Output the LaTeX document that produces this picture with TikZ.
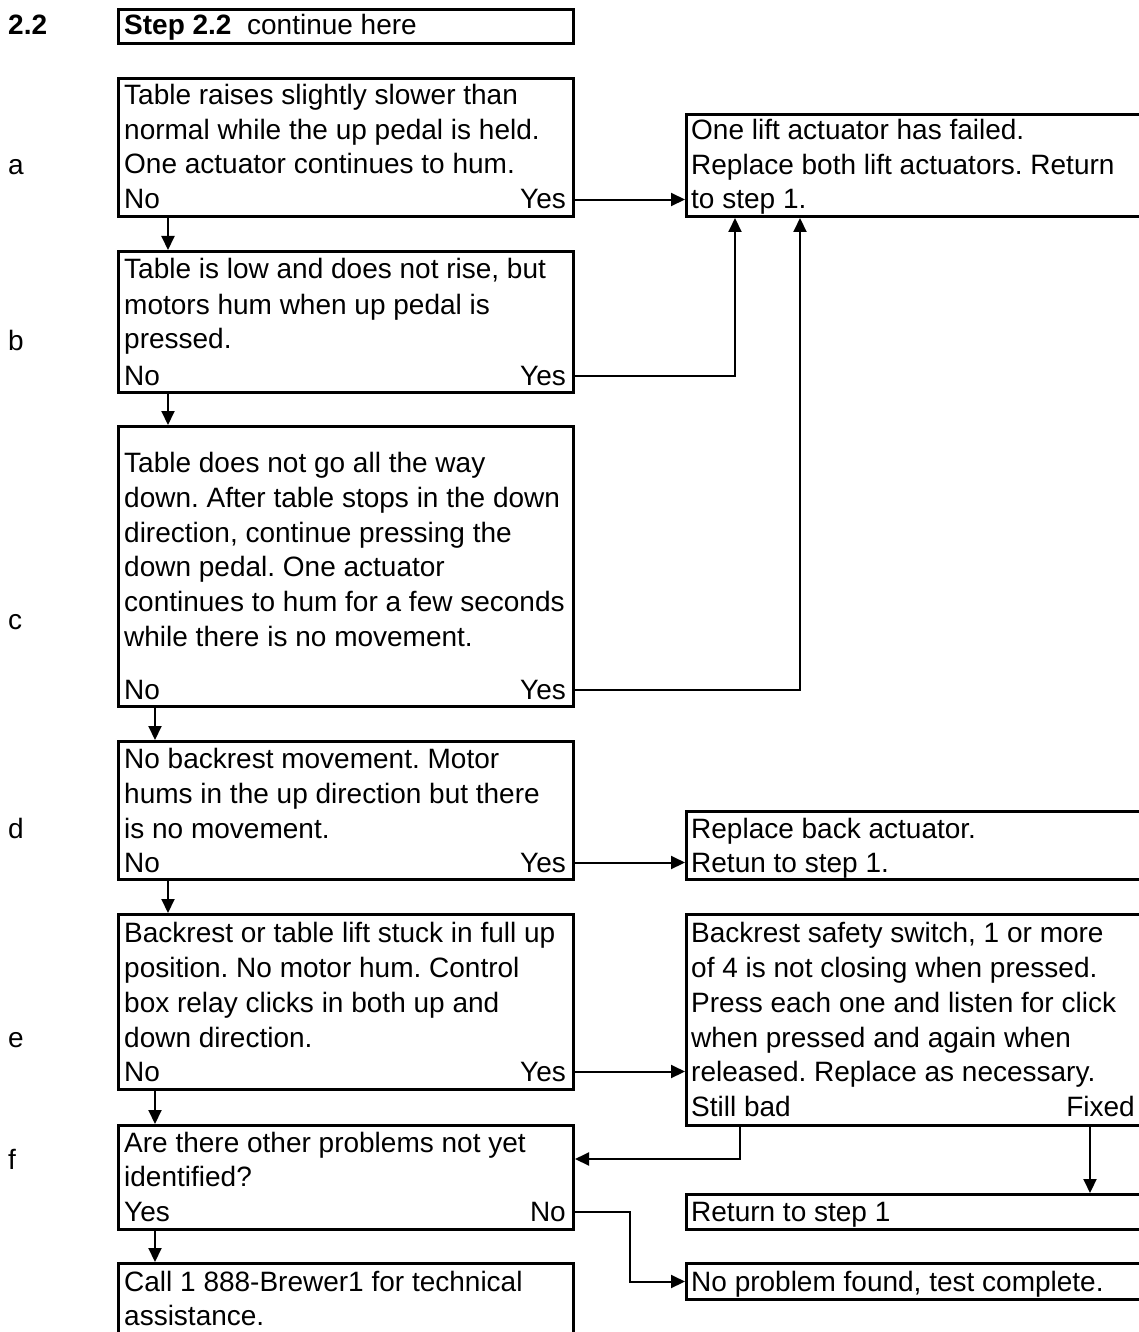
\documentclass[tikz,border=0pt]{standalone}
\usepackage{fontspec}
\setmainfont{Liberation Sans}
\usetikzlibrary{arrows.meta}
\frenchspacing
\newcommand\txtline[4]{\node[txt] (#1) at (#2,#3) {#4};}
\newcommand\txtright[4]{\node[txtr] (#1) at (#2,#3) {#4};}
\begin{document}
\begin{tikzpicture}[x=1pt,y=-1pt,
  bx/.style={draw, line width=3pt, inner sep=0pt, anchor=north west},
  txt/.style={anchor=base west, inner sep=0pt, font=\fontsize{28}{34}\selectfont},
  txtr/.style={anchor=base east, inner sep=0pt, font=\fontsize{28}{34}\selectfont},
  arr/.style={line width=2pt, -{Triangle[length=14pt,width=13pt]}},
  ]
\useasboundingbox (0,0) rectangle (1139,1332);
\clip (0,0) rectangle (1139,1332);
% column coordinates
\coordinate (x168) at (168,0);
\coordinate (x155) at (155,0);
\coordinate (x735) at (735,0);
\coordinate (x800) at (800,0);
\coordinate (x740) at (740,0);
\coordinate (x1090) at (1090,0);
\coordinate (x630) at (630,0);
\coordinate (y1159) at (0,1159);
% boxes
\node[bx, minimum width=455pt, minimum height=34pt]  (st) at (117,8) {};
\node[bx, minimum width=455pt, minimum height=138pt] (a) at (117,77) {};
\node[bx, minimum width=455pt, minimum height=141pt] (b) at (117,250) {};
\node[bx, minimum width=455pt, minimum height=280pt] (c) at (117,425) {};
\node[bx, minimum width=455pt, minimum height=138pt] (d) at (117,740) {};
\node[bx, minimum width=455pt, minimum height=175pt] (e) at (117,913) {};
\node[bx, minimum width=455pt, minimum height=104pt] (f) at (117,1124) {};
\node[bx, minimum width=455pt, minimum height=90pt]  (g) at (117,1262) {};
\node[bx, minimum width=470pt, minimum height=102pt] (r1) at (685,113) {};
\node[bx, minimum width=470pt, minimum height=68pt]  (r2) at (685,810) {};
\node[bx, minimum width=470pt, minimum height=211pt] (r3) at (685,913) {};
\node[bx, minimum width=470pt, minimum height=35pt]  (r4) at (685,1193) {};
\node[bx, minimum width=470pt, minimum height=36pt]  (r5) at (685,1262) {};
% left labels
\txtline{n22}{8}{35}{\bfseries 2.2}
\txtline{la}{8}{175}{a}
\txtline{lb}{8}{350}{b}
\txtline{lc}{8}{629}{c}
\txtline{ld}{8}{838}{d}
\txtline{le}{8}{1047}{e}
\txtline{lf}{8}{1169}{f}
% step
\txtline{stt}{124}{35}{{\bfseries Step 2.2}\ \ continue here}
% a
\txtline{a1}{124}{105}{Table raises slightly slower than}
\txtline{a2}{124}{140}{normal while the up pedal is held.}
\txtline{a3}{124}{174}{One actuator continues to hum.}
\txtline{ano}{124}{209}{No}
\txtright{ayes}{566}{209}{Yes}
% b
\txtline{b1}{124}{278}{Table is low and does not rise, but}
\txtline{b2}{124}{314}{motors hum when up pedal is}
\txtline{b3}{124}{348}{pressed.}
\txtline{bno}{124}{385}{No}
\txtright{byes}{566}{385}{Yes}
% c
\txtline{c1}{124}{472}{Table does not go all the way}
\txtline{c2}{124}{507}{down. After table stops in the down}
\txtline{c3}{124}{542}{direction, continue pressing the}
\txtline{c4}{124}{576}{down pedal. One actuator}
\txtline{c5}{124}{611}{continues to hum for a few seconds}
\txtline{c6}{124}{646}{while there is no movement.}
\txtline{cno}{124}{699}{No}
\txtright{cyes}{566}{699}{Yes}
% d
\txtline{d1}{124}{768}{No backrest movement. Motor}
\txtline{d2}{124}{803}{hums in the up direction but there}
\txtline{d3}{124}{838}{is no movement.}
\txtline{dno}{124}{872}{No}
\txtright{dyes}{566}{872}{Yes}
% e
\txtline{e1}{124}{942}{Backrest or table lift stuck in full up}
\txtline{e2}{124}{977}{position. No motor hum. Control}
\txtline{e3}{124}{1012}{box relay clicks in both up and}
\txtline{e4}{124}{1047}{down direction.}
\txtline{eno}{124}{1081}{No}
\txtright{eyes}{566}{1081}{Yes}
% f
\txtline{f1}{124}{1152}{Are there other problems not yet}
\txtline{f2}{124}{1186}{identified?}
\txtline{fyes}{124}{1221}{Yes}
\txtright{fno}{566}{1221}{No}
% g
\txtline{g1}{124}{1291}{Call 1 888-Brewer1 for technical}
\txtline{g2}{124}{1325}{assistance.}
% right boxes
\txtline{r1a}{691}{140}{One lift actuator has failed.}
\txtline{r1b}{691}{175}{Replace both lift actuators. Return}
\txtline{r1c}{691}{209}{to step 1.}
\txtline{r2a}{691}{838}{Replace back actuator.}
\txtline{r2b}{691}{872}{Retun to step 1.}
\txtline{r3a}{691}{942}{Backrest safety switch, 1 or more}
\txtline{r3b}{691}{977}{of 4 is not closing when pressed.}
\txtline{r3c}{691}{1012}{Press each one and listen for click}
\txtline{r3d}{691}{1047}{when pressed and again when}
\txtline{r3e}{691}{1081}{released. Replace as necessary.}
\txtline{r3bad}{691}{1116}{Still bad}
\txtright{r3fix}{1135}{1116}{Fixed}
\txtline{r4a}{691}{1221}{Return to step 1}
\txtline{r5a}{691}{1291}{No problem found, test complete.}
% connectors
\draw[arr] (a.south -| x168) -- (b.north -| x168);
\draw[arr] (b.south -| x168) -- (c.north -| x168);
\draw[arr] (c.south -| x155) -- (d.north -| x155);
\draw[arr] (d.south -| x168) -- (e.north -| x168);
\draw[arr] (e.south -| x155) -- (f.north -| x155);
\draw[arr] (f.south -| x155) -- (g.north -| x155);
\draw[arr] (a.east |- ayes) -- (r1.west |- ayes);
\draw[arr] (b.east |- byes) -| (r1.south -| x735);
\draw[arr] (c.east |- cyes) -| (r1.south -| x800);
\draw[arr] (d.east |- dyes) -- (r2.west |- dyes);
\draw[arr] (e.east |- eyes) -- (r3.west |- eyes);
\draw[arr] (r3.south -| x740) |- (f.east |- y1159);
\draw[arr] (r3.south -| x1090) -- (r4.north -| x1090);
\draw[arr] (f.east |- fno) -| (x630 |- r5.west) -- (r5.west);
\end{tikzpicture}
\end{document}
